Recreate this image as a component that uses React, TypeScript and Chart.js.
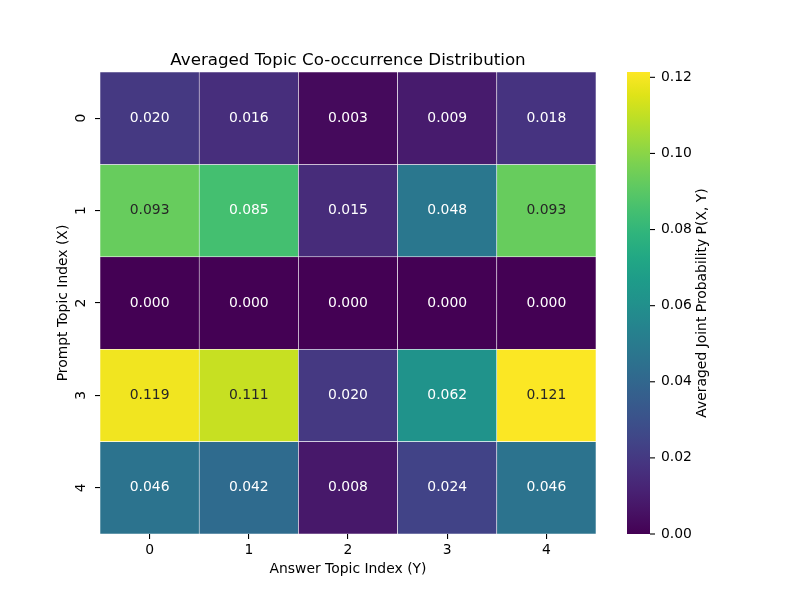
import React, { useEffect, useRef } from 'react';
import { Chart, registerables } from 'chart.js';

Chart.register(...registerables);

// ---- data ----
const answerLabels = ['0', '1', '2', '3', '4'];
const promptLabels = ['0', '1', '2', '3', '4'];
const row0 = [0.020, 0.016, 0.003, 0.009, 0.018];
const row1 = [0.093, 0.085, 0.015, 0.048, 0.093];
const row2 = [0.000, 0.000, 0.000, 0.000, 0.000];
const row3 = [0.119, 0.111, 0.020, 0.062, 0.121];
const row4 = [0.046, 0.042, 0.008, 0.024, 0.046];
const rows = [row0, row1, row2, row3, row4];
const colorbarTicks = [0, 0.02, 0.04, 0.06, 0.08, 0.10, 0.12];
const vmin = 0;
const vmax = 0.1214;

const titleText = 'Averaged Topic Co-occurrence Distribution';
const xTitle = 'Answer Topic Index (Y)';
const yTitle = 'Prompt Topic Index (X)';
const cbTitle = 'Averaged Joint Probability P(X, Y)';

// ---- viridis colormap ----
const VIRIDIS = [
  '#440154', '#471365', '#482475', '#463480', '#414487', '#3b528b', '#355f8d',
  '#2f6c8e', '#2a788e', '#25848e', '#21918c', '#1e9c89', '#22a884', '#2fb47c',
  '#44bf70', '#5ec962', '#7ad151', '#9bd93c', '#bddf26', '#dfe318', '#fde725',
];
const hexToRgb = (h: string) => [
  parseInt(h.slice(1, 3), 16),
  parseInt(h.slice(3, 5), 16),
  parseInt(h.slice(5, 7), 16),
];
const VRGB = VIRIDIS.map(hexToRgb);
function viridisRgb(t: number) {
  const c = Math.max(0, Math.min(1, t)) * (VRGB.length - 1);
  const i = Math.min(Math.floor(c), VRGB.length - 2);
  const f = c - i;
  const a = VRGB[i], b = VRGB[i + 1];
  return [0, 1, 2].map((k) => a[k] + (b[k] - a[k]) * f);
}
function colorFor(v: number) {
  const [r, g, b] = viridisRgb((v - vmin) / (vmax - vmin));
  return `rgb(${Math.round(r)},${Math.round(g)},${Math.round(b)})`;
}
function textColorFor(v: number) {
  const rgb = viridisRgb((v - vmin) / (vmax - vmin)).map((c) => {
    const x = c / 255;
    return x <= 0.03928 ? x / 12.92 : Math.pow((x + 0.055) / 1.055, 2.4);
  });
  const lum = 0.2126 * rgb[0] + 0.7152 * rgb[1] + 0.0722 * rgb[2];
  return lum > 0.408 ? '#262626' : '#ffffff';
}

const FONT = 'DejaVu Sans';
const FS = 13.9;

const heatPlugin = {
  id: 'heatExtras',
  afterDatasetsDraw(chart: any) {
    const ctx = chart.ctx;
    ctx.save();
    ctx.font = `${FS}px "${FONT}"`;
    ctx.textAlign = 'center';
    ctx.textBaseline = 'middle';
    rows.forEach((r, i) => {
      const meta = chart.getDatasetMeta(i);
      meta.data.forEach((el: any, j: number) => {
        const p = el.getCenterPoint();
        ctx.fillStyle = textColorFor(r[j]);
        ctx.fillText(r[j].toFixed(3), p.x, p.y);
      });
    });
    ctx.restore();
  },
  afterDraw(chart: any) {
    const ctx = chart.ctx;
    const area = chart.chartArea;
    const cb = chart.scales.cb;
    ctx.save();
    // title
    ctx.fillStyle = '#000';
    ctx.font = `16.7px "${FONT}"`;
    ctx.textAlign = 'center';
    ctx.textBaseline = 'alphabetic';
    ctx.fillText(titleText, (area.left + area.right) / 2, 64.5);

    // colorbar
    const x0 = area.right + 31;
    const w = 23;
    const yb = cb.getPixelForValue(vmin);
    const yt = cb.getPixelForValue(vmax);
    const grad = ctx.createLinearGradient(0, yb, 0, yt);
    VIRIDIS.forEach((c, k) => grad.addColorStop(k / (VIRIDIS.length - 1), c));
    ctx.fillStyle = grad;
    ctx.fillRect(x0, yt, w, yb - yt);
    // colorbar tick marks
    ctx.strokeStyle = '#000';
    ctx.lineWidth = 1.1;
    colorbarTicks.forEach((v) => {
      const y = cb.getPixelForValue(v);
      ctx.beginPath();
      ctx.moveTo(x0 + w, y);
      ctx.lineTo(x0 + w + 5, y);
      ctx.stroke();
    });
    // colorbar label
    ctx.translate(702, (yt + yb) / 2);
    ctx.rotate(-Math.PI / 2);
    ctx.font = `${FS}px "${FONT}"`;
    ctx.textAlign = 'center';
    ctx.textBaseline = 'middle';
    ctx.fillStyle = '#000';
    ctx.fillText(cbTitle, 0, 0);
    ctx.restore();
  },
};

const noPad = (s: any) => {
  s.paddingTop = 0;
  s.paddingBottom = 0;
  s.paddingLeft = 0;
  s.paddingRight = 0;
};

export default function App() {
  const ref = useRef<HTMLCanvasElement | null>(null);
  useEffect(() => {
    if (!ref.current) return;
    const chart = new Chart(ref.current, {
      type: 'bar',
      data: {
        labels: answerLabels,
        datasets: rows.map((r, i) => ({
          label: promptLabels[i],
          data: r.map(() => [i, i + 1]),
          backgroundColor: r.map((v) => colorFor(v)),
          borderColor: '#ffffff',
          borderWidth: 0.6,
          borderSkipped: false,
          categoryPercentage: 1,
          barPercentage: 1,
          grouped: false,
        })) as any,
      },
      options: {
        animation: false,
        responsive: false,
        maintainAspectRatio: false,
        devicePixelRatio: 1,
        layout: { padding: { top: 72, left: 0, right: 0, bottom: 0 } },
        plugins: {
          legend: { display: false },
          tooltip: { enabled: false },
          title: { display: false },
        },
        scales: {
          x: {
            type: 'category',
            position: 'bottom',
            offset: true,
            grid: {
              display: true,
              drawOnChartArea: false,
              drawTicks: true,
              tickLength: 5,
              color: '#000',
              lineWidth: 1.1,
              offset: false,
            },
            border: { display: false },
            ticks: { color: '#000', font: { family: FONT, size: FS }, padding: 3 },
            title: {
              display: true,
              text: xTitle,
              color: '#000',
              font: { family: FONT, size: FS },
              padding: { top: 0, bottom: 22 },
            },
            afterFit: (s: any) => {
              s.height = 66;
              noPad(s);
            },
          },
          y: {
            type: 'linear',
            position: 'left',
            min: 0,
            max: 5,
            reverse: true,
            afterBuildTicks: (s: any) => {
              s.ticks = promptLabels.map((_, i) => ({ value: i + 0.5 }));
            },
            grid: {
              display: true,
              drawOnChartArea: false,
              drawTicks: true,
              tickLength: 5,
              color: '#000',
              lineWidth: 1.1,
            },
            border: { display: false },
            ticks: {
              color: '#000',
              font: { family: FONT, size: FS },
              minRotation: 90,
              maxRotation: 90,
              crossAlign: 'center',
              padding: 9,
              callback: (v: any) => promptLabels[Math.floor(Number(v))],
            },
            title: {
              display: true,
              text: yTitle,
              color: '#000',
              font: { family: FONT, size: FS },
              padding: { top: 54.7, bottom: 0 },
            },
            afterFit: (s: any) => {
              s.width = 100;
              noPad(s);
            },
          },
          cb: {
            axis: 'y',
            type: 'linear',
            position: 'right',
            min: vmin,
            max: vmax,
            afterBuildTicks: (s: any) => {
              s.ticks = colorbarTicks.map((v) => ({ value: v }));
            },
            grid: { display: false, drawTicks: false, drawOnChartArea: false },
            border: { display: false },
            ticks: {
              color: '#000',
              font: { family: FONT, size: FS },
              padding: 65,
              callback: (v: any) => Number(v).toFixed(2),
            },
            afterFit: (s: any) => {
              s.width = 204;
              noPad(s);
            },
          },
        } as any,
      },
      plugins: [heatPlugin],
    });
    return () => chart.destroy();
  }, []);
  return (
    <div style={{ position: 'absolute', left: 0, top: 0, width: 800, height: 600, background: '#fff' }}>
      <canvas ref={ref} width={800} height={600} style={{ width: 800, height: 600 }} />
    </div>
  );
}
